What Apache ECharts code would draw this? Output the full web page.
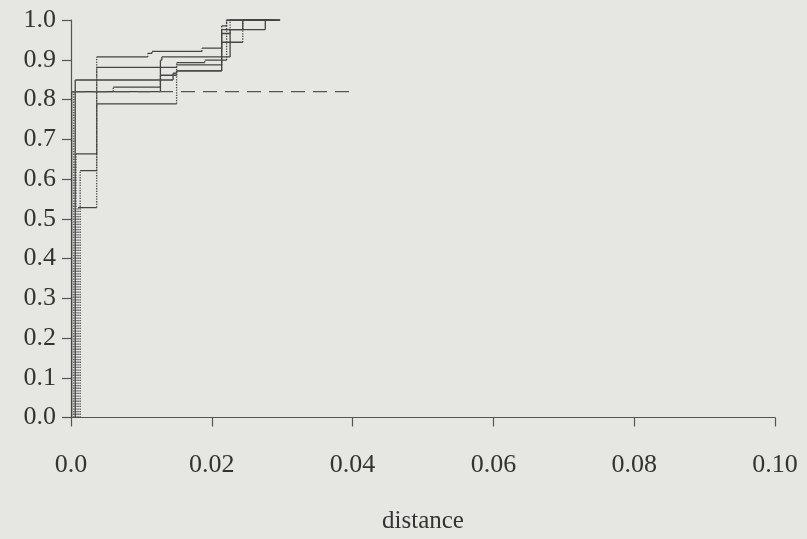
<!DOCTYPE html>
<html><head><meta charset="utf-8">
<script src="https://cdn.jsdelivr.net/npm/echarts@6/dist/echarts.min.js"></script>
<style>html,body{margin:0;padding:0;background:#e6e6e3;}#c{width:807px;height:539px;}</style>
</head><body><div id="c"></div>
<script>
// x-axis tick labels and y-axis tick labels
const xTicks = ['0.0','0.02','0.04','0.06','0.08','0.10'];
const yTicks = ['0.0','0.1','0.2','0.3','0.4','0.5','0.6','0.7','0.8','0.9','1.0'];
// ECDF-like step curves: jump x positions and level after each jump, and end x
const c1x = [0.0006, 0.0145, 0.0150, 0.0214, 0.0276], c1y = [0.849, 0.866, 0.872, 0.976, 1.0], c1end = 0.0297;
const c2x = [0.0007, 0.00365, 0.0109, 0.0115, 0.0186, 0.0214, 0.0221], c2y = [0.663, 0.907, 0.916, 0.921, 0.929, 0.985, 1.0], c2end = 0.0297;
const c3x = [0.0010, 0.00365, 0.0150, 0.0190, 0.0221, 0.0244], c3y = [0.528, 0.881, 0.893, 0.899, 0.944, 1.0], c3end = 0.0290;
const c4x = [0.0013, 0.00365, 0.0150, 0.0214, 0.0226], c4y = [0.621, 0.789, 0.887, 0.966, 1.0], c4end = 0.0280;
const c5x = [0.0001, 0.0127, 0.0129, 0.0226, 0.0244], c5y = [0.820, 0.899, 0.907, 0.976, 1.0], c5end = 0.0297;
const c6x = [0.0004, 0.0060, 0.0127, 0.0150, 0.0214, 0.0221], c6y = [0.820, 0.831, 0.861, 0.872, 0.944, 1.0], c6end = 0.0285;
// dashed reference level
const refLevel = 0.82, refEnd = 0.04;

const curves = [
  {x:c1x, y:c1y, end:c1end, v:'solid'},
  {x:c2x, y:c2y, end:c2end, v:'dotted'},
  {x:c3x, y:c3y, end:c3end, v:'dotted'},
  {x:c4x, y:c4y, end:c4end, v:'dotted'},
  {x:c5x, y:c5y, end:c5end, v:'solid'},
  {x:c6x, y:c6y, end:c6end, v:'dotted'}
];
const col = '#444444';
const series = [];
curves.forEach(c => {
  const h = [], v = [];
  let prev = 0;
  for (let i = 0; i < c.x.length; i++) {
    v.push([c.x[i], prev], [c.x[i], c.y[i]], null);
    const nx = i + 1 < c.x.length ? c.x[i+1] : c.end;
    h.push([c.x[i], c.y[i]], [nx, c.y[i]], null);
    prev = c.y[i];
  }
  series.push({type:'line', data:v, symbol:'none', silent:true, connectNulls:false,
    lineStyle:{color:col, width:1.3, type:c.v}});
  series.push({type:'line', data:h, symbol:'none', silent:true, connectNulls:false,
    lineStyle:{color:col, width:1.3, type:'solid'}});
});
series.push({type:'line', data:[[0, refLevel],[refEnd, refLevel]], symbol:'none', silent:true,
  lineStyle:{color:'#555', width:1.3, type:[14,8]}});

const chart = echarts.init(document.getElementById('c'));
const font = '"Liberation Serif", "DejaVu Serif", serif';
chart.setOption({
  backgroundColor:'#e6e6e3',
  animation:false,
  grid:{left:71, right:32, top:20, bottom:121, containLabel:false},
  xAxis:{type:'value', min:0, max:0.1, interval:0.02,
    name:'distance', nameLocation:'middle', nameGap:104,
    nameTextStyle:{fontFamily:font, fontSize:25, color:'#333', verticalAlign:'middle'},
    axisLine:{show:true, onZero:false, lineStyle:{color:'#555', width:1.2}},
    axisTick:{show:true, length:9, lineStyle:{color:'#555', width:1.2}},
    splitLine:{show:false},
    axisLabel:{margin:48, fontFamily:font, fontSize:26, color:'#333', verticalAlign:'middle',
      formatter:(val, idx) => xTicks[idx]}},
  yAxis:{type:'value', min:0, max:1, interval:0.1,
    axisLine:{show:true, lineStyle:{color:'#555', width:1.2}},
    axisTick:{show:true, length:9, lineStyle:{color:'#555', width:1.2}},
    splitLine:{show:false},
    axisLabel:{margin:15, fontFamily:font, fontSize:26, color:'#333',
      formatter:(val, idx) => yTicks[idx]}},
  series:series
});
</script></body></html>
